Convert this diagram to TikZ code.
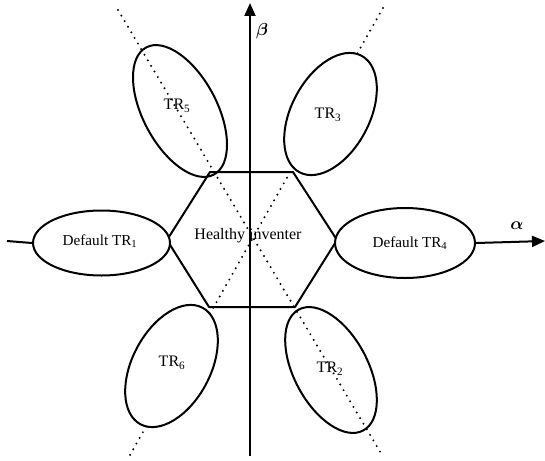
\documentclass[tikz,border=0pt]{standalone}
\usepackage{amsmath}
\usepackage{bm}
\usepackage{fontspec}
\setmainfont{Liberation Serif}
\usetikzlibrary{shapes.geometric,arrows.meta}
\begin{document}
\begin{tikzpicture}[x=1pt,y=-1pt,
  solidline/.style={line width=2pt,black},
  dotline/.style={line width=2.2pt,line cap=round,dash pattern=on 0pt off 6.5pt},
  region/.style={ellipse,solidline,draw,inner sep=0pt},
  lbl/.style={font=\fontsize{16}{18}\selectfont,inner sep=0pt},
  deflbl/.style={font=\fontsize{15.2}{17}\selectfont,inner sep=0pt},
  axisarrow/.style={solidline,-{Triangle[length=13pt,width=11pt]}}]
\useasboundingbox (0,0) rectangle (545,460);

% diagonal dotted guide lines through the centre
\coordinate (d1a) at (118,10);
\coordinate (d1b) at (382,455);
\coordinate (d2a) at (383,8);
\coordinate (d2b) at (130,455);
\draw[dotline] (d1a) -- (d1b);
\draw[dotline] (d2a) -- (d2b);

% healthy region
\coordinate (hl) at (167,240);
\coordinate (htl) at (210,172);
\coordinate (htr) at (293,172);
\coordinate (hr) at (337,240);
\coordinate (hbr) at (295,307);
\coordinate (hbl) at (209,307);
\draw[solidline,line join=round] (hl) -- (htl) -- (htr) -- (hr) -- (hbr) -- (hbl) -- cycle;
\node[lbl] (healthy) at (248,236) {Healthy inventer};

% fault regions
\node[region,minimum width=137,minimum height=65,fill=white] (tr1) at (101.5,243) {};
\node[region,minimum width=140,minimum height=70,fill=white] (tr4) at (405,243) {};
\node[region,minimum width=144,minimum height=74,rotate=-62] (tr5) at (180,111) {};
\node[region,minimum width=132,minimum height=78,rotate=62,fill=white] (tr3) at (330.5,114) {};
\node[region,minimum width=132,minimum height=78,rotate=62,fill=white] (tr6) at (171.5,366) {};
\node[region,minimum width=137,minimum height=74,rotate=-62] (tr2) at (331,370) {};

\node[deflbl] at (100,241) {Default TR\textsubscript{1}};
\node[deflbl] at (410,243) {Default TR\textsubscript{4}};
\node[lbl] at (177,106) {TR\textsubscript{5}};
\node[lbl] at (328,115) {TR\textsubscript{3}};
\node[lbl] at (172,363) {TR\textsubscript{6}};
\node[lbl] at (330,369) {TR\textsubscript{2}};

% axes
\coordinate (aleft) at (7,241);
\coordinate (aright) at (545,241);
\coordinate (bbottom) at (250,456);
\coordinate (btop) at (250,3);
\draw[solidline] (aleft) -- (tr1.west);
\draw[axisarrow] (tr4.east) -- (aright);
\draw[axisarrow] (bbottom) -- (btop);
\node[lbl] (alpha) at (517,226) {$\bm{\alpha}$};
\node[lbl] (beta) at (262,31) {$\bm{\beta}$};
\end{tikzpicture}
\end{document}
